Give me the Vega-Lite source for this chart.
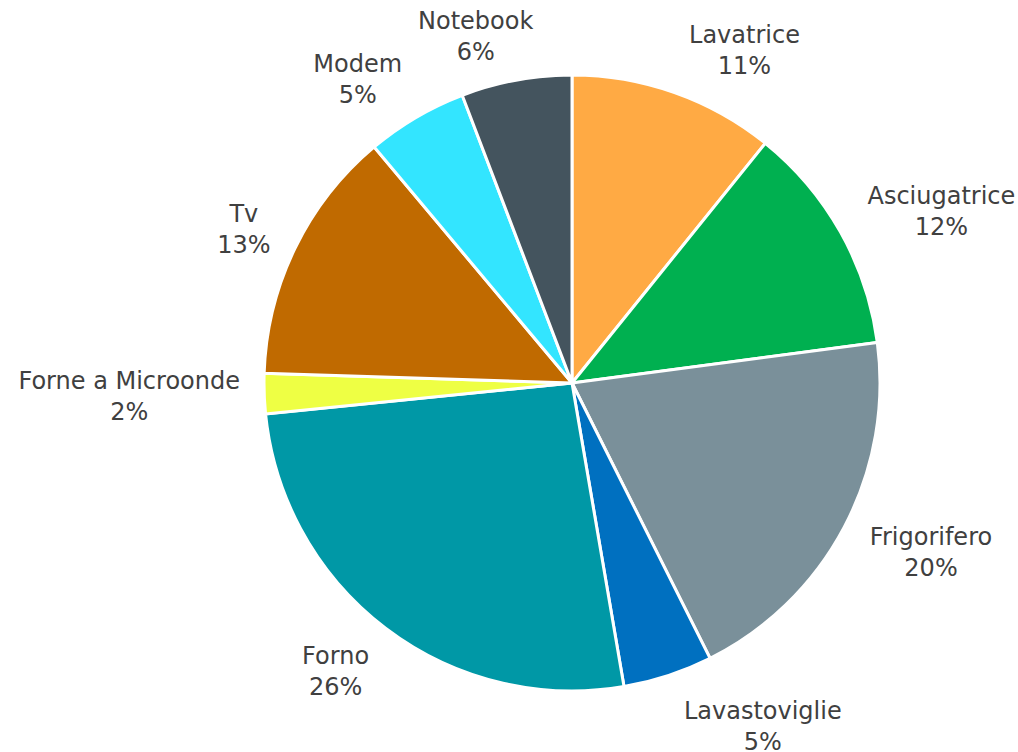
{
  "$schema": "https://vega.github.io/schema/vega-lite/v6.json",
  "autosize": "none",
  "width": 800,
  "height": 700,
  "padding": {"left": 172, "top": 33, "right": 46, "bottom": 19},
  "background": "white",
  "view": {"stroke": null},
  "data": {
    "values": [
      {"cat": "Lavatrice", "value": 10.8, "ord": 1},
      {"cat": "Asciugatrice", "value": 12.1, "ord": 2},
      {"cat": "Frigorifero", "value": 19.7, "ord": 3},
      {"cat": "Lavastoviglie", "value": 4.7, "ord": 4},
      {"cat": "Forno", "value": 26.1, "ord": 5},
      {"cat": "Forne a Microonde", "value": 2.1, "ord": 6},
      {"cat": "Tv", "value": 13.4, "ord": 7},
      {"cat": "Modem", "value": 5.3, "ord": 8},
      {"cat": "Notebook", "value": 5.8, "ord": 9}
    ]
  },
  "encoding": {
    "theta": {"field": "value", "type": "quantitative", "stack": true, "scale": {"domain": [0, 100]}},
    "order": {"field": "ord", "type": "quantitative"},
    "color": {
      "field": "cat", "type": "nominal", "legend": null,
      "scale": {
        "domain": ["Lavatrice", "Asciugatrice", "Frigorifero", "Lavastoviglie", "Forno", "Forne a Microonde", "Tv", "Modem", "Notebook"],
        "range": ["#FFAA44", "#00B050", "#7A909A", "#0070C0", "#0098A6", "#EEFF44", "#C06A00", "#33E5FF", "#44545E"]
      }
    }
  },
  "layer": [
    {
      "mark": {"type": "arc", "outerRadius": 308, "stroke": "white", "strokeWidth": 3}
    },
    {
      "transform": [
        {"calculate": "[datum.cat, format(datum.value / 100, '.0%')]", "as": "label"}
      ],
      "mark": {
        "type": "text",
        "radius": 332,
        "align": "center",
        "baseline": "middle",
        "font": "DejaVu Sans",
        "fontSize": 24,
        "lineHeight": 31,
        "fill": "#404040",
        "dx": {"expr": "clamp(sin(PI * (datum.value_start + datum.value_end) / 100) * 3.5, -1, 1) * (max(24 * (0.6 * length(datum.cat) + 0.3 * length(replace(datum.cat, regexp('[^Mmw]', 'g'), '')) - 0.3 * length(replace(datum.cat, regexp('[^iltrf ]', 'g'), ''))), 53) / 2 + (sin(PI * (datum.value_start + datum.value_end) / 100) > 0 ? 8 : 3))"},
        "dy": {"expr": "-13 - cos(PI * (datum.value_start + datum.value_end) / 100) * (cos(PI * (datum.value_start + datum.value_end) / 100) > 0 ? 22 : 28)"}
      },
      "encoding": {
        "text": {"field": "label"},
        "color": {"value": "#404040"}
      }
    }
  ]
}
